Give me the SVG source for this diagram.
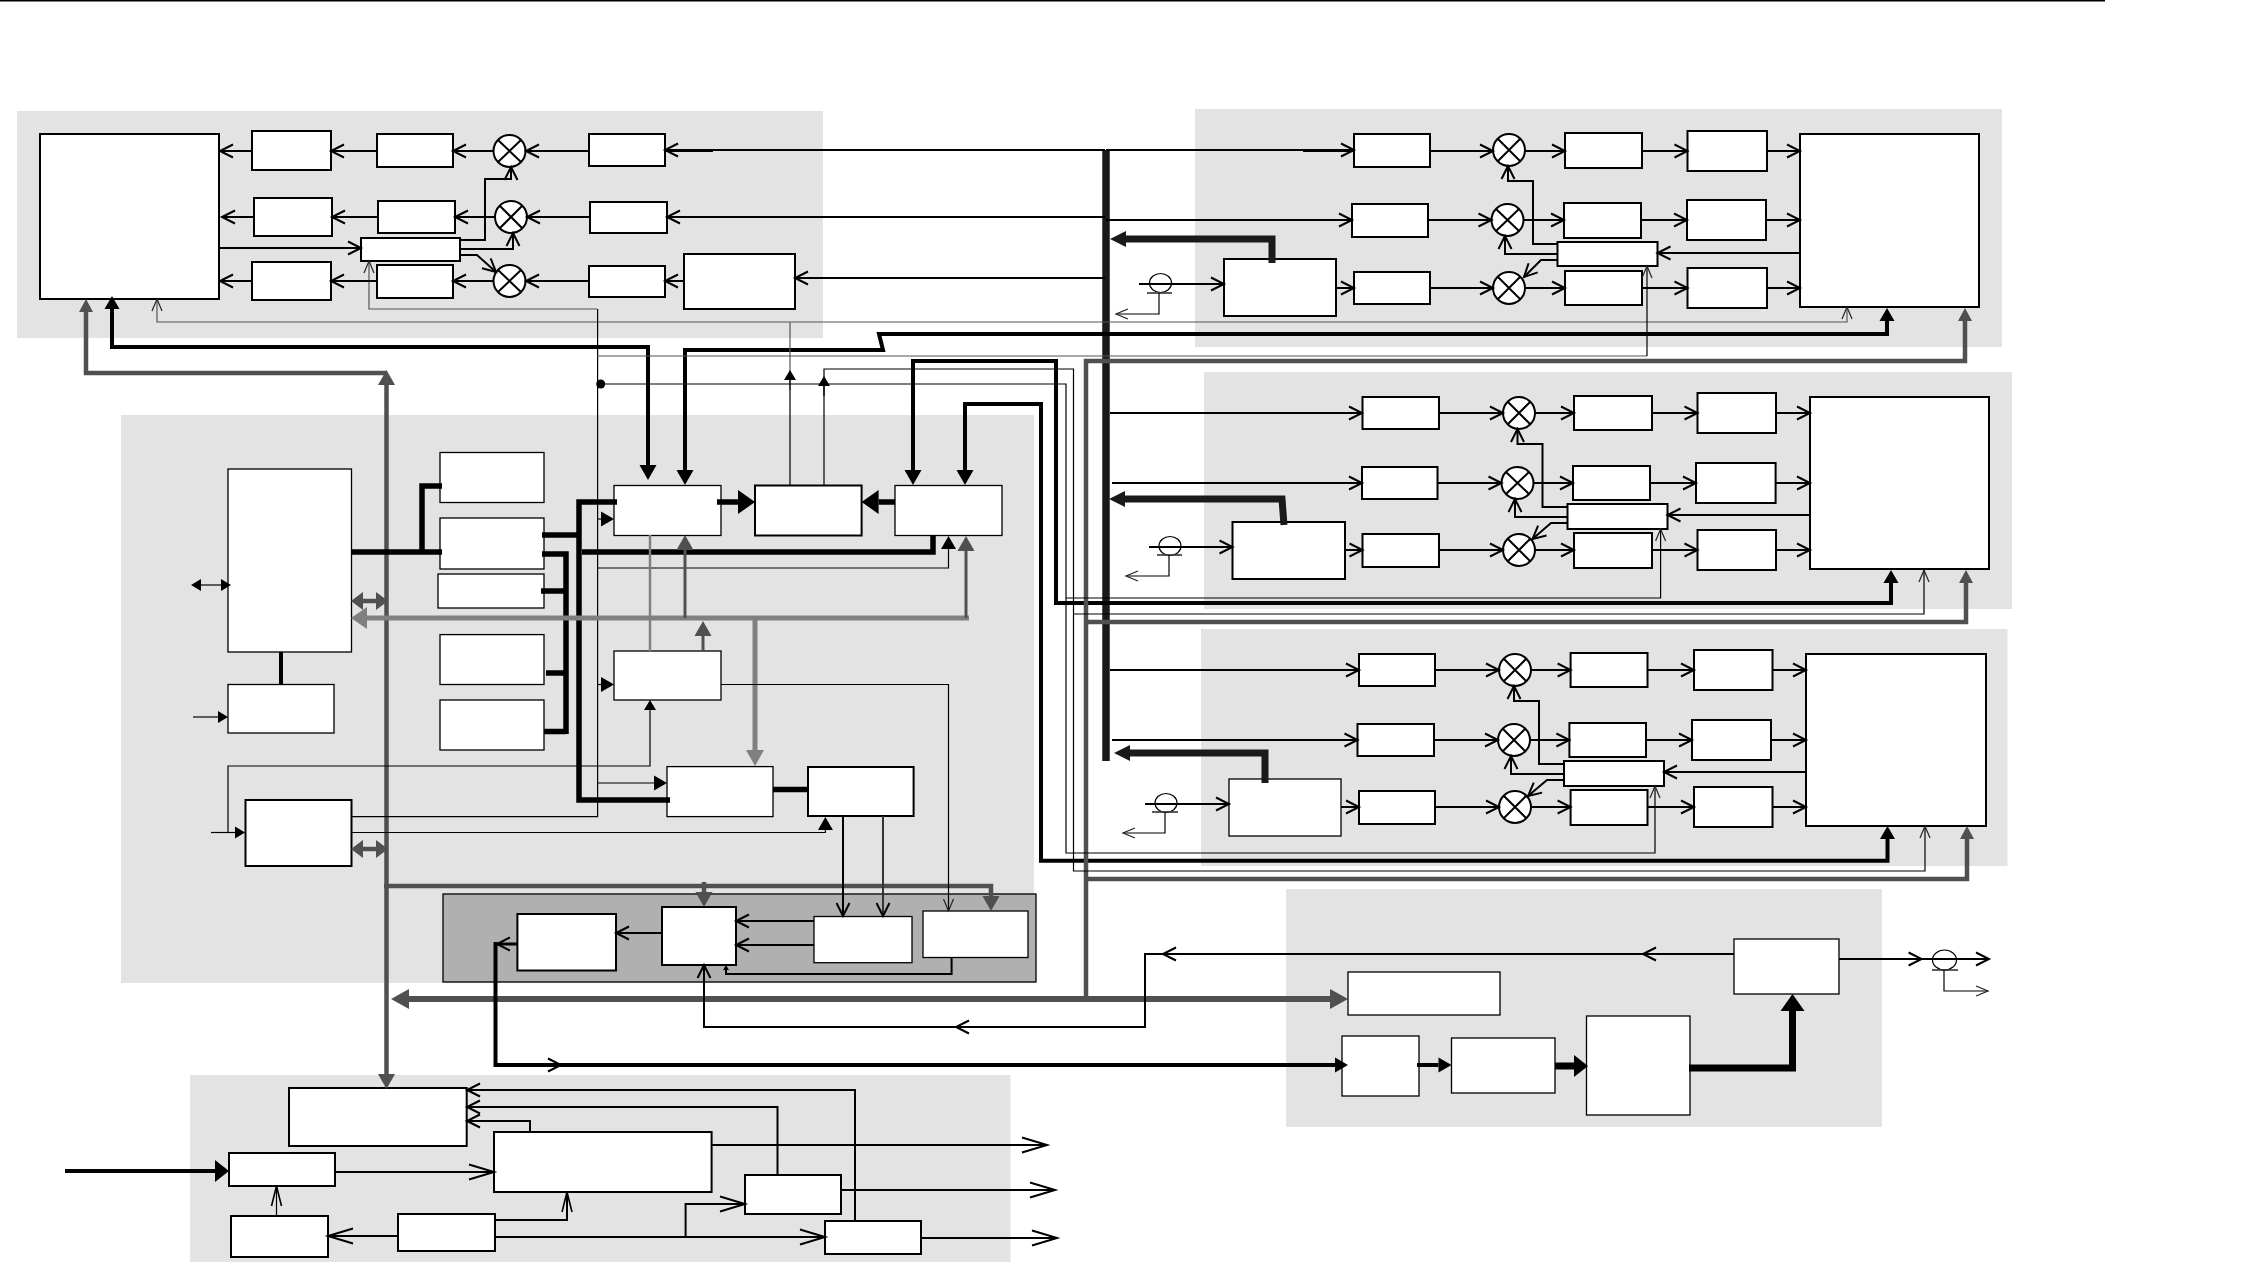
<svg xmlns="http://www.w3.org/2000/svg" width="2252" height="1262" viewBox="0 0 2252 1262">
<style>
.p{fill:#e3e3e3}
.b rect{fill:#fff;stroke:#000;stroke-width:2}
.n rect{fill:#fff;stroke:#000;stroke-width:1.3}
.m ellipse,.m circle{fill:#fff;stroke:#000;stroke-width:2}
.m path{fill:none;stroke:#000;stroke-width:2}
.a ellipse{fill:none;stroke:#000;stroke-width:1.2}
.a path{fill:none;stroke:#333;stroke-width:1.6}
.c path{fill:none;stroke:#000;stroke-width:2}
.c path.t{stroke-width:1.2}
.c path.y{stroke:#555;stroke-width:1.2}
.c path.w3{stroke-width:3}
.c path.w4{stroke-width:4}
.c path.w5{stroke-width:5.5}
.c path.w7{stroke-width:7}
.c path.bus{stroke:#1a1a1a;stroke-width:7.5}
.c path.bl{stroke:#1a1a1a;stroke-width:7}
.c path.g{stroke:#505050;stroke-width:4.5}
.c path.g3{stroke:#505050;stroke-width:3}
.c path.g6{stroke:#505050;stroke-width:6}
.c path.h{stroke:#808080;stroke-width:5}
.c path.h2{stroke:#808080;stroke-width:2.5}
marker{overflow:visible}
marker path.o{fill:none;stroke:#000;stroke-width:2}
marker path.ot{fill:none;stroke:#222;stroke-width:1.2}
marker path.on{fill:none;stroke:#000;stroke-width:1.6}
</style>
<defs>
<marker id="oa" markerUnits="userSpaceOnUse" markerWidth="1" markerHeight="1" orient="auto-start-reverse"><path class="o" d="M-13,-6.500L0,0L-13,6.500"/></marker>
<marker id="ol" markerUnits="userSpaceOnUse" markerWidth="1" markerHeight="1" orient="auto"><path class="o" d="M-25,-7.500L0,0L-25,7.500"/></marker>
<marker id="on" markerUnits="userSpaceOnUse" markerWidth="1" markerHeight="1" orient="auto"><path class="on" d="M-20,-5L0,0L-20,5"/></marker>
<marker id="ot" markerUnits="userSpaceOnUse" markerWidth="1" markerHeight="1" orient="auto-start-reverse"><path class="ot" d="M-12,-5L0,0L-12,5"/></marker>
<marker id="ft" markerUnits="userSpaceOnUse" markerWidth="1" markerHeight="1" orient="auto"><path d="M0,-3L5,0L0,3z"/></marker>
<marker id="fs" markerUnits="userSpaceOnUse" markerWidth="1" markerHeight="1" orient="auto-start-reverse"><path d="M0,-6L10,0L0,6z"/></marker>
<marker id="f13" markerUnits="userSpaceOnUse" markerWidth="1" markerHeight="1" orient="auto-start-reverse"><path d="M0,-7.500L13,0L0,7.500z"/></marker>
<marker id="f14" markerUnits="userSpaceOnUse" markerWidth="1" markerHeight="1" orient="auto"><path d="M0,-11L14,0L0,11z"/></marker>
<marker id="fm" markerUnits="userSpaceOnUse" markerWidth="1" markerHeight="1" orient="auto"><path d="M0,-8.500L15,0L0,8.500z"/></marker>
<marker id="fl" markerUnits="userSpaceOnUse" markerWidth="1" markerHeight="1" orient="auto"><path d="M0,-12L17,0L0,12z"/></marker>
<marker id="fb" markerUnits="userSpaceOnUse" markerWidth="1" markerHeight="1" orient="auto"><path fill="#1a1a1a" d="M0,-8L16,0L0,8z"/></marker>
<marker id="gs" markerUnits="userSpaceOnUse" markerWidth="1" markerHeight="1" orient="auto-start-reverse"><path fill="#505050" d="M0,-7L13,0L0,7z"/></marker>
<marker id="gm" markerUnits="userSpaceOnUse" markerWidth="1" markerHeight="1" orient="auto-start-reverse"><path fill="#505050" d="M0,-8.500L15,0L0,8.500z"/></marker>
<marker id="gd" markerUnits="userSpaceOnUse" markerWidth="1" markerHeight="1" orient="auto-start-reverse"><path fill="#505050" d="M0,-9L12,0L0,9z"/></marker>
<marker id="gl" markerUnits="userSpaceOnUse" markerWidth="1" markerHeight="1" orient="auto-start-reverse"><path fill="#505050" d="M0,-10L18,0L0,10z"/></marker>
<marker id="hl" markerUnits="userSpaceOnUse" markerWidth="1" markerHeight="1" orient="auto-start-reverse"><path fill="#808080" d="M0,-11L16,0L0,11z"/></marker>
<marker id="hm" markerUnits="userSpaceOnUse" markerWidth="1" markerHeight="1" orient="auto"><path fill="#808080" d="M0,-9L16,0L0,9z"/></marker>
</defs>
<rect width="2252" height="1262" fill="#fff"/>
<rect x="0" y="0" width="2105" height="1.500" fill="#000"/>
<g id="panels">
<rect class="p" x="17" y="111" width="806" height="227"/>
<rect class="p" x="1195" y="109" width="807" height="238"/>
<rect class="p" x="1204" y="372" width="808" height="237"/>
<rect class="p" x="1201" y="629" width="806.500" height="237"/>
<rect class="p" x="121" y="415" width="913" height="568"/>
<rect x="443" y="894" width="593" height="88" fill="#b0b0b0" stroke="#000" stroke-width="1.300"/>
<rect class="p" x="1286" y="889" width="596" height="238"/>
<rect class="p" x="190" y="1075" width="820.500" height="187"/>
</g>
<g id="nodes">
<g id="a1" class="b"><rect x="40" y="134" width="179" height="165"/></g>
<g id="a2" class="b"><rect x="252" y="131" width="79" height="39"/></g>
<g id="a3" class="b"><rect x="377" y="134" width="76" height="33"/></g>
<g id="a4" class="b"><rect x="589" y="134" width="76" height="32"/></g>
<g id="a5" class="b"><rect x="254" y="198" width="78" height="38"/></g>
<g id="a6" class="b"><rect x="378" y="201" width="77" height="32"/></g>
<g id="a7" class="b"><rect x="590" y="202" width="77" height="31"/></g>
<g id="a8" class="b"><rect x="252" y="262" width="79" height="38"/></g>
<g id="a9" class="b"><rect x="377" y="265" width="76" height="33"/></g>
<g id="a10" class="b"><rect x="589" y="266" width="76" height="31"/></g>
<g id="a11" class="b"><rect x="684" y="254" width="111" height="55"/></g>
<g id="a12" class="b"><rect x="361" y="238" width="99" height="23"/></g>
<g id="am1" class="m"><circle cx="509.500" cy="151" r="16"/><path d="M498,140L521,162M521,140L498,162"/></g>
<g id="am2" class="m"><circle cx="511" cy="217" r="16"/><path d="M500,206L522,228M522,206L500,228"/></g>
<g id="am3" class="m"><circle cx="509.500" cy="281" r="16"/><path d="M498,270L521,292M521,270L498,292"/></g>

<g id="b1" class="b"><rect x="1354" y="134" width="76" height="33"/></g>
<g id="b2" class="b"><rect x="1565" y="133" width="77" height="35"/></g>
<g id="b3" class="b"><rect x="1687.500" y="131" width="79.500" height="40"/></g>
<g id="b4" class="b"><rect x="1800" y="134" width="179" height="173"/></g>
<g id="b5" class="b"><rect x="1352" y="204" width="76" height="33"/></g>
<g id="b6" class="b"><rect x="1564" y="203" width="77" height="35"/></g>
<g id="b7" class="b"><rect x="1687" y="200" width="79" height="40"/></g>
<g id="b8" class="b"><rect x="1354" y="272" width="76" height="32"/></g>
<g id="b9" class="b"><rect x="1565" y="271" width="77" height="34"/></g>
<g id="b10" class="b"><rect x="1687.500" y="268" width="79.500" height="40"/></g>
<g id="b11" class="b"><rect x="1557.500" y="242" width="100" height="24"/></g>
<g id="b12" class="b"><rect x="1224" y="259" width="112" height="57"/></g>
<g id="bm1" class="m"><circle cx="1509" cy="150" r="16"/><path d="M1498,139L1520,161M1520,139L1498,161"/></g>
<g id="bm2" class="m"><circle cx="1507.500" cy="220" r="16"/><path d="M1496,209L1519,231M1519,209L1496,231"/></g>
<g id="bm3" class="m"><circle cx="1509" cy="288" r="16"/><path d="M1498,277L1520,299M1520,277L1498,299"/></g>
<g id="ba" class="a"><ellipse cx="1160.500" cy="283" rx="11" ry="9.500"/><path d="M1147,293H1172"/></g>

<g id="c1b" class="b"><rect x="1362.500" y="397" width="76.500" height="32"/></g>
<g id="c2b" class="b"><rect x="1574" y="396" width="78" height="34"/></g>
<g id="c3b" class="b"><rect x="1697.500" y="393" width="78.500" height="40"/></g>
<g id="c4b" class="b"><rect x="1810" y="397" width="179" height="172"/></g>
<g id="c5b" class="b"><rect x="1362" y="467" width="75.500" height="32"/></g>
<g id="c6b" class="b"><rect x="1573" y="466" width="77" height="34"/></g>
<g id="c7b" class="b"><rect x="1696" y="463" width="79.600" height="40"/></g>
<g id="c8b" class="b"><rect x="1362.500" y="534" width="76.500" height="33"/></g>
<g id="c9b" class="b"><rect x="1574" y="533" width="78" height="35"/></g>
<g id="c10b" class="b"><rect x="1697.500" y="530" width="78.500" height="40"/></g>
<g id="c11b" class="b"><rect x="1567.500" y="504" width="100" height="25"/></g>
<g id="c12b" class="b"><rect x="1232.500" y="522" width="112.500" height="57"/></g>
<g id="cm1" class="m"><circle cx="1519" cy="413" r="16"/><path d="M1508,402L1530,424M1530,402L1508,424"/></g>
<g id="cm2" class="m"><circle cx="1517.500" cy="483" r="16"/><path d="M1506,472L1529,494M1529,472L1506,494"/></g>
<g id="cm3" class="m"><circle cx="1519" cy="550" r="16"/><path d="M1508,539L1530,561M1530,539L1508,561"/></g>
<g id="ca" class="a"><ellipse cx="1170" cy="546" rx="11" ry="9.500"/><path d="M1157,555H1182"/></g>

<g id="d1b" class="b"><rect x="1359" y="654" width="76" height="32"/></g>
<g id="d2b" class="b"><rect x="1570.600" y="653" width="76.900" height="34"/></g>
<g id="d3b" class="b"><rect x="1694" y="650" width="78.500" height="40"/></g>
<g id="d4b" class="b"><rect x="1806" y="654" width="180" height="172"/></g>
<g id="d5b" class="b"><rect x="1357.500" y="724" width="76.500" height="32"/></g>
<g id="d6b" class="b"><rect x="1569.400" y="723" width="76.600" height="34"/></g>
<g id="d7b" class="b"><rect x="1692" y="720" width="79" height="40"/></g>
<g id="d8b" class="b"><rect x="1359" y="791" width="76" height="33"/></g>
<g id="d9b" class="b"><rect x="1570.600" y="790" width="76.900" height="35"/></g>
<g id="d10b" class="b"><rect x="1694" y="787" width="78.500" height="40"/></g>
<g id="d11b" class="b"><rect x="1564" y="761" width="100" height="25"/></g>
<g id="d12b" class="n"><rect x="1229" y="779" width="112" height="57"/></g>
<g id="dm1" class="m"><circle cx="1515" cy="670" r="16"/><path d="M1504,659L1526,681M1526,659L1504,681"/></g>
<g id="dm2" class="m"><circle cx="1514" cy="740" r="16"/><path d="M1503,729L1525,751M1525,729L1503,751"/></g>
<g id="dm3" class="m"><circle cx="1515" cy="807" r="16"/><path d="M1504,796L1526,818M1526,796L1504,818"/></g>
<g id="da" class="a"><ellipse cx="1166" cy="803" rx="11" ry="9.500"/><path d="M1152,812H1178"/></g>

<g id="cpu" class="n"><rect x="228" y="469" width="123.500" height="183"/></g>
<g id="cpu2" class="n"><rect x="228" y="684.500" width="106" height="48.500"/></g>
<g id="m1" class="n"><rect x="440" y="452.500" width="104" height="50"/></g>
<g id="m2" class="n"><rect x="440" y="518" width="104" height="51"/></g>
<g id="m3" class="n"><rect x="438" y="574" width="106" height="34"/></g>
<g id="m4" class="n"><rect x="440" y="634.600" width="104" height="49.900"/></g>
<g id="m5" class="n"><rect x="440" y="700" width="104" height="50"/></g>
<g id="k1" class="n"><rect x="614" y="485.500" width="107" height="50"/></g>
<g id="k2" class="b"><rect x="755" y="485.500" width="106.600" height="50"/></g>
<g id="k3" class="n"><rect x="895" y="485.500" width="107" height="50"/></g>
<g id="k4" class="n"><rect x="614" y="651" width="107" height="49"/></g>
<g id="k5" class="n"><rect x="667" y="766.600" width="106" height="50"/></g>
<g id="k6" class="b"><rect x="808" y="767" width="105.600" height="49"/></g>
<g id="k7" class="b"><rect x="245.500" y="800" width="106" height="66"/></g>
<g id="e1" class="b"><rect x="517.400" y="914" width="98.600" height="56.500"/></g>
<g id="e2" class="b"><rect x="662" y="907" width="74" height="58"/></g>
<g id="e3" class="n"><rect x="814" y="916.500" width="98" height="46.200"/></g>
<g id="e4" class="n"><rect x="923" y="911" width="105" height="46.500"/></g>

<g id="f1" class="n"><rect x="1348" y="972" width="152" height="43"/></g>
<g id="f2" class="n"><rect x="1342" y="1036" width="77" height="60"/></g>
<g id="f3" class="n"><rect x="1451.500" y="1038" width="103.500" height="55"/></g>
<g id="f4" class="n"><rect x="1586.500" y="1016" width="103.500" height="99"/></g>
<g id="f5" class="n"><rect x="1734" y="939" width="105" height="55"/></g>
<g id="fa" class="a"><ellipse cx="1944.500" cy="960" rx="12" ry="10"/><path d="M1932,970H1958"/></g>

<g id="g1" class="b"><rect x="289" y="1088" width="177.700" height="58"/></g>
<g id="g2" class="b"><rect x="229" y="1153" width="106" height="33"/></g>
<g id="g3" class="b"><rect x="494" y="1132" width="217.600" height="60"/></g>
<g id="g4" class="b"><rect x="745" y="1175" width="96" height="39"/></g>
<g id="g5" class="b"><rect x="825" y="1221" width="96" height="33"/></g>
<g id="g6" class="b"><rect x="231" y="1216" width="97" height="41"/></g>
<g id="g7" class="b"><rect x="398" y="1214" width="97" height="37"/></g>
</g>
<g id="connectors" class="c">
<path class="bus" d="M1106,150V761"/>
<path class="w4" d="M112,309V347H648V465" marker-start="url(#f13)" marker-end="url(#fm)"/>
<path class="w4" d="M1887,321V334H879L883,350H685V470" marker-start="url(#f13)" marker-end="url(#fm)"/>
<path class="w4" d="M1891,583V603H1056V361H913V470" marker-start="url(#f13)" marker-end="url(#fm)"/>
<path class="w4" d="M1887.500,839V860.700H1041V404H965V470" marker-start="url(#f13)" marker-end="url(#fm)"/>
<path class="g" d="M1965,321V361H1086V999" marker-start="url(#gs)"/>
<path class="g" d="M1966,583V622H1086" marker-start="url(#gs)"/>
<path class="g" d="M1967,839V879H1086" marker-start="url(#gs)"/>
<path class="g6" d="M409,999H1330" marker-start="url(#gl)" marker-end="url(#gl)"/>
<path class="g" d="M86,312V373H386.500" marker-start="url(#gs)"/>
<path class="g" d="M386.500,385V1074" marker-start="url(#gm)" marker-end="url(#gm)"/>
<path class="g" d="M384,886H991V896" marker-end="url(#gm)"/>
<path class="g" d="M704,882V892" marker-end="url(#gm)"/>
<path class="y" d="M1847,307V322H157V299" marker-start="url(#ot)" marker-end="url(#ot)"/>
<path class="y" d="M790,390V322"/>
<path class="y" d="M369,261V309H597" marker-start="url(#ot)"/>
<path class="t" d="M597.600,309V816.600H351.500"/>
<path class="y" d="M597,356H1647"/>
<path class="t" d="M1647,356V266" marker-end="url(#ot)"/>
<path class="t" d="M600,384H1066V853H1655V786" marker-end="url(#ot)"/>
<path class="t" d="M1066,598H1660.600V529" marker-end="url(#ot)"/>
<path class="t" d="M824,396V369H1073.500V871H1925V826" marker-end="url(#ot)"/>
<path class="t" d="M1073.500,614H1924V570" marker-end="url(#ot)"/>
<path class="t" d="M790,486V380" marker-end="url(#fs)"/>
<path class="t" d="M824,486V386" marker-end="url(#fs)"/>
<path d="M1105,150H665" marker-end="url(#oa)"/>
<path d="M665,151H713"/>
<path d="M589,151H526" marker-end="url(#oa)"/>
<path d="M493,151H453" marker-end="url(#oa)"/>
<path d="M377,151H331" marker-end="url(#oa)"/>
<path d="M252,151H220" marker-end="url(#oa)"/>
<path d="M1105,217H667" marker-end="url(#oa)"/>
<path d="M590,217H527" marker-end="url(#oa)"/>
<path d="M495,217H455" marker-end="url(#oa)"/>
<path d="M378,217H332" marker-end="url(#oa)"/>
<path d="M254,217H222" marker-end="url(#oa)"/>
<path d="M1105,278H795" marker-end="url(#oa)"/>
<path d="M684,281H665" marker-end="url(#oa)"/>
<path d="M589,281H526" marker-end="url(#oa)"/>
<path d="M493,281H453" marker-end="url(#oa)"/>
<path d="M377,281H331" marker-end="url(#oa)"/>
<path d="M252,281H220" marker-end="url(#oa)"/>
<path d="M219,248H361" marker-end="url(#oa)"/>
<path d="M460,240H485V179H511V167" marker-end="url(#oa)"/>
<path d="M460,249H513V233" marker-end="url(#oa)"/>
<path d="M460,255H477L496,272" marker-end="url(#oa)"/>
<path d="M1106,150H1354" marker-end="url(#oa)"/>
<path d="M1303,151H1354"/>
<path d="M1430,151H1493" marker-end="url(#oa)"/>
<path d="M1525,151H1565" marker-end="url(#oa)"/>
<path d="M1642,151H1687.500" marker-end="url(#oa)"/>
<path d="M1767,151H1800" marker-end="url(#oa)"/>
<path d="M1106,220H1352" marker-end="url(#oa)"/>
<path d="M1428,220H1491.500" marker-end="url(#oa)"/>
<path d="M1523.500,220H1564" marker-end="url(#oa)"/>
<path d="M1641,220H1687" marker-end="url(#oa)"/>
<path d="M1766,220H1800" marker-end="url(#oa)"/>
<path d="M1336,288H1354" marker-end="url(#oa)"/>
<path d="M1430,288H1493" marker-end="url(#oa)"/>
<path d="M1525,288H1565" marker-end="url(#oa)"/>
<path d="M1642,288H1687.500" marker-end="url(#oa)"/>
<path d="M1767,288H1800" marker-end="url(#oa)"/>
<path d="M1800,253H1657.500" marker-end="url(#oa)"/>
<path d="M1557,244H1533V181H1508V166" marker-end="url(#oa)"/>
<path d="M1557,254H1505V236" marker-end="url(#oa)"/>
<path d="M1557,260H1541L1524,277" marker-end="url(#oa)"/>
<path d="M1139,284H1224" marker-end="url(#oa)"/>
<path class="t" d="M1159,293V314H1116" marker-end="url(#ot)"/>
<path class="bl" d="M1272,263V239H1126" marker-end="url(#fb)"/>
<path d="M1110,413H1362" marker-end="url(#oa)"/>
<path d="M1439,413H1503" marker-end="url(#oa)"/>
<path d="M1535,413H1574" marker-end="url(#oa)"/>
<path d="M1652,413H1697.500" marker-end="url(#oa)"/>
<path d="M1776,413H1810" marker-end="url(#oa)"/>
<path d="M1112,483H1362" marker-end="url(#oa)"/>
<path d="M1437.500,483H1501.500" marker-end="url(#oa)"/>
<path d="M1533.500,483H1573" marker-end="url(#oa)"/>
<path d="M1650,483H1696" marker-end="url(#oa)"/>
<path d="M1775.600,483H1810" marker-end="url(#oa)"/>
<path d="M1345,550H1362.500" marker-end="url(#oa)"/>
<path d="M1439,550H1503" marker-end="url(#oa)"/>
<path d="M1535,550H1574" marker-end="url(#oa)"/>
<path d="M1652,550H1697.500" marker-end="url(#oa)"/>
<path d="M1776,550H1810" marker-end="url(#oa)"/>
<path d="M1810,515H1667.500" marker-end="url(#oa)"/>
<path d="M1567.500,507H1542.500V444H1517.500V429" marker-end="url(#oa)"/>
<path d="M1567.500,517H1515V499" marker-end="url(#oa)"/>
<path d="M1567.500,523H1551L1532.500,539" marker-end="url(#oa)"/>
<path d="M1149,547H1232.500" marker-end="url(#oa)"/>
<path class="t" d="M1169,555V576H1126" marker-end="url(#ot)"/>
<path class="bl" d="M1284,525L1282,499H1125" marker-end="url(#fb)"/>
<path d="M1110,670H1359" marker-end="url(#oa)"/>
<path d="M1435,670H1499" marker-end="url(#oa)"/>
<path d="M1531,670H1570.600" marker-end="url(#oa)"/>
<path d="M1647.500,670H1694" marker-end="url(#oa)"/>
<path d="M1772.500,670H1806" marker-end="url(#oa)"/>
<path d="M1112,740H1357.500" marker-end="url(#oa)"/>
<path d="M1434,740H1498" marker-end="url(#oa)"/>
<path d="M1530,740H1569.400" marker-end="url(#oa)"/>
<path d="M1646,740H1692" marker-end="url(#oa)"/>
<path d="M1771,740H1806" marker-end="url(#oa)"/>
<path d="M1341,807H1359" marker-end="url(#oa)"/>
<path d="M1435,807H1499" marker-end="url(#oa)"/>
<path d="M1531,807H1570.600" marker-end="url(#oa)"/>
<path d="M1647.500,807H1694" marker-end="url(#oa)"/>
<path d="M1772.500,807H1806" marker-end="url(#oa)"/>
<path d="M1806,772H1664" marker-end="url(#oa)"/>
<path d="M1564,764H1539V701H1514V686" marker-end="url(#oa)"/>
<path d="M1564,774H1511V756" marker-end="url(#oa)"/>
<path d="M1564,780H1547L1528,796" marker-end="url(#oa)"/>
<path d="M1145,804H1229" marker-end="url(#oa)"/>
<path class="t" d="M1165,812V833H1123" marker-end="url(#ot)"/>
<path class="bl" d="M1265,783V753H1130" marker-end="url(#fb)"/>
<path class="w5" d="M351,552H442"/>
<path class="w5" d="M422,552V486H442"/>
<path class="w5" d="M542,535H579"/>
<path class="w5" d="M617,502H579V800H670"/>
<path class="w5" d="M582,552H933V535"/>
<path class="w5" d="M542,554H566V734"/>
<path class="w5" d="M541,591H566"/>
<path class="w5" d="M546,673H566"/>
<path class="w5" d="M544,731.500H566"/>
<path class="w5" d="M717,502H738" marker-end="url(#fl)"/>
<path class="w5" d="M895,502H878.600" marker-end="url(#fl)"/>
<path class="w5" d="M773,789.600H808"/>
<path class="w4" d="M281,652V685"/>
<path class="t" d="M201,585H221" marker-start="url(#fs)" marker-end="url(#fs)"/>
<path class="t" d="M193,717H218" marker-end="url(#fs)"/>
<path class="t" d="M597.600,519H601" marker-end="url(#f13)"/>
<path class="t" d="M597.600,684.500H601" marker-end="url(#f13)"/>
<path class="t" d="M597.600,783H654" marker-end="url(#f13)"/>
<path class="t" d="M211,832.500H235" marker-end="url(#fs)"/>
<path class="t" d="M228,832V766H650V710" marker-end="url(#fs)"/>
<path class="t" d="M351.500,832.500H825.400V830" marker-end="url(#f13)"/>
<path class="t" d="M597.600,568H948.500V549" marker-end="url(#f13)"/>
<path class="h" d="M367,618H969" marker-start="url(#hl)"/>
<path class="g3" d="M966,618V551" marker-end="url(#gm)"/>
<path class="g3" d="M685,618V550" marker-end="url(#gm)"/>
<path class="g3" d="M703,651V636" marker-end="url(#gm)"/>
<path class="h" d="M755,618V750" marker-end="url(#hm)"/>
<path class="h2" d="M650,651V535"/>
<path class="g" d="M363,601H376" marker-start="url(#gd)" marker-end="url(#gd)"/>
<path class="g" d="M363,849H376" marker-start="url(#gd)" marker-end="url(#gd)"/>
<path class="t" d="M721,684.500H948.500V911" marker-end="url(#ot)"/>
<path d="M843,816V916" stroke-width="2.500" marker-end="url(#oa)"/>
<path style="stroke:#333" d="M883,816V916" marker-end="url(#oa)"/>
<path d="M814,921H736" marker-end="url(#oa)"/>
<path d="M814,945H736" marker-end="url(#oa)"/>
<path d="M662,933H616" marker-end="url(#oa)"/>
<path d="M951.600,957.500V974H726V970" marker-end="url(#ft)"/>
<path d="M1734,954H1145V1027H704V965" marker-end="url(#oa)"/>
<path d="M1655,954H1643" marker-end="url(#oa)"/>
<path d="M1175,954H1163" marker-end="url(#oa)"/>
<path d="M968,1027H956" marker-end="url(#oa)"/>
<path class="w3" d="M517,944H497" marker-end="url(#oa)"/>
<path class="w4" d="M495.500,942V1065H1335" marker-end="url(#f13)"/>
<path d="M549,1065H561" marker-end="url(#oa)"/>
<path class="w4" d="M1417,1065H1438.500" marker-end="url(#f13)"/>
<path class="w7" d="M1555,1066H1574" marker-end="url(#f14)"/>
<path class="w7" d="M1689,1068H1792.500V1011" marker-end="url(#fl)"/>
<path d="M1839,959H1921.600" marker-end="url(#oa)"/>
<path d="M1921,959H1989" marker-end="url(#oa)"/>
<path class="t" d="M1944,970V991H1988" marker-end="url(#ot)"/>
<path class="w4" d="M65,1171H215" marker-end="url(#f14)"/>
<path d="M335,1172H494" marker-end="url(#ol)"/>
<path class="t" d="M276.500,1216V1186" marker-end="url(#on)"/>
<path d="M398,1236H328" marker-end="url(#ol)"/>
<path d="M495,1220H567V1192" marker-end="url(#on)"/>
<path d="M495,1237H825" marker-end="url(#ol)"/>
<path d="M685.600,1237V1204H745" marker-end="url(#ol)"/>
<path d="M711,1145H1047" marker-end="url(#ol)"/>
<path d="M841,1190H1055" marker-end="url(#ol)"/>
<path d="M921,1238H1057" marker-end="url(#ol)"/>
<path d="M855,1221V1090H467" marker-end="url(#oa)"/>
<path d="M777.500,1175V1107H467" marker-end="url(#oa)"/>
<path d="M530,1132V1121H467" marker-end="url(#oa)"/>
</g>
<ellipse id="junction" cx="600.700" cy="384" rx="4.500" ry="4.500" fill="#000"/>
</svg>
